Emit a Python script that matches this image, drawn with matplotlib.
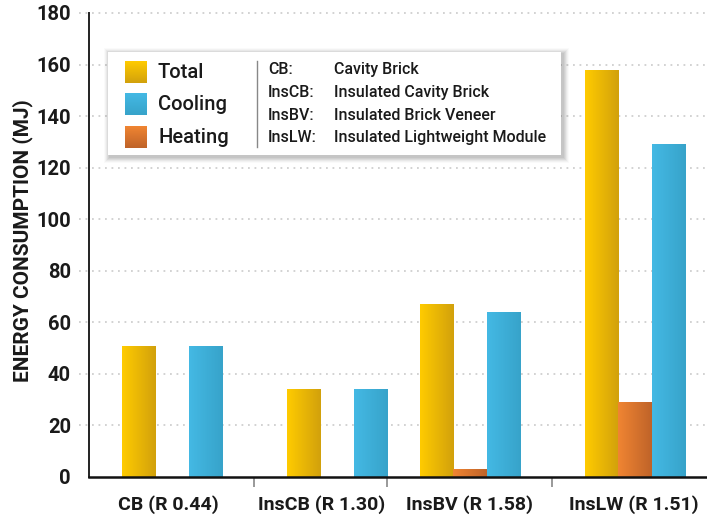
import numpy as np
import matplotlib
matplotlib.use("Agg")
import matplotlib.pyplot as plt
import matplotlib.transforms as mtransforms
from matplotlib.patches import Rectangle
from matplotlib.colors import LinearSegmentedColormap

# ---------------- data ----------------
categories = ["CB (R 0.44)", "InsCB (R 1.30)", "InsBV (R 1.58)", "InsLW (R 1.51)"]
total = [51, 34, 67, 158]
heating = [0, 0, 3, 29]
cooling = [51, 34, 64, 129]
y_ticks = [0, 20, 40, 60, 80, 100, 120, 140, 160, 180]
series_names = ["Total", "Cooling", "Heating"]
abbr = ["CB:", "InsCB:", "InsBV:", "InsLW:"]
abbr_desc = ["Cavity Brick", "Insulated Cavity Brick", "Insulated Brick Veneer",
             "Insulated Lightweight Module"]

# ---------------- style ----------------
FONT = ["Roboto", "DejaVu Sans"]
plt.rcParams["font.family"] = FONT
TXT = "#1a1a1a"
grad = {
    "Total": ("#FFCB00", "#D2A10C"),
    "Cooling": ("#44B9E4", "#37A3CA"),
    "Heating": ("#F08532", "#BF6329"),
}

W, H = 707, 522
fig = plt.figure(figsize=(W / 100, H / 100), dpi=100)
ax_l, ax_r, ax_b, ax_t = 89, 707, 477, 13
ax = fig.add_axes([ax_l / W, 1 - ax_b / H, (ax_r - ax_l) / W, (ax_b - ax_t) / H])
ax.set_xlim(0, ax_r - ax_l)
ax.set_ylim(0, 180)

group_centers = [83, 248, 381, 546]
label_pos = [79, 233, 381, 545]
separators = [165, 298, 463]
bw = 33.5
offsets = {"Total": -bw, "Heating": 0.0, "Cooling": bw}
values = {"Total": total, "Heating": heating, "Cooling": cooling}


def grad_img(c1, c2, vertical=False):
    cmap = LinearSegmentedColormap.from_list("g", [c1, c2])
    g = np.linspace(0, 1, 64)
    if vertical:
        return cmap(g[:, None] * np.ones((1, 2)))
    return cmap(g[None, :] * np.ones((2, 1)))


for name in ["Total", "Heating", "Cooling"]:
    xs = [c + offsets[name] for c in group_centers]
    bars = ax.bar(xs, values[name], width=bw, color="none", edgecolor="none", zorder=2)
    c1, c2 = grad[name]
    for b in bars:
        h = b.get_height()
        if h <= 0:
            continue
        x0 = b.get_x()
        im = ax.imshow(grad_img(c1, c2), extent=[x0, x0 + bw, 0, h], aspect="auto",
                       origin="lower", zorder=2, interpolation="bilinear")
        im.set_clip_path(b)

ax.set_xlim(0, ax_r - ax_l)
ax.set_ylim(0, 180)

# grid lines (dotted, extending slightly left of the axis)
blend = mtransforms.blended_transform_factory(ax.transAxes, ax.transData)
for v in y_ticks[1:]:
    ax.plot([-0.016, 1], [v, v], transform=blend, clip_on=False, color="#cfcfcf",
            lw=1.3, ls=(0, (1.0, 2.6)), zorder=0)

for s in ["top", "right"]:
    ax.spines[s].set_visible(False)
ax.spines["left"].set_color("#222222")
ax.spines["left"].set_linewidth(1.4)
ax.spines["bottom"].set_color("#111111")
ax.spines["bottom"].set_linewidth(1.8)
ax.spines["bottom"].set_zorder(5)

ax.set_yticks(y_ticks)
ax.set_yticklabels([str(v) for v in y_ticks], fontsize=14.5, fontweight="bold", color=TXT)
ax.tick_params(axis="y", length=0, pad=13)

ax.set_xticks(label_pos)
ax.set_xticklabels(categories, fontsize=14, fontweight="bold", color=TXT)
ax.set_xticks(separators, minor=True)
ax.tick_params(axis="x", which="major", length=0, pad=13)
ax.tick_params(axis="x", which="minor", length=7, width=1.2, color="#888888")

ax.set_ylabel("ENERGY CONSUMPTION (MJ)", fontsize=15, fontweight="bold", color=TXT)
ax.yaxis.set_label_coords(-0.09, 0.51)

# ---------------- legend box ----------------
lx0, lx1, ly0, ly1 = 108, 561, 52, 155
# shadow
for i, a in enumerate([0.05, 0.05, 0.05, 0.04, 0.03, 0.02]):
    d = i + 1
    fig.patches.append(Rectangle(((lx0 - d + 2) / W, 1 - (ly1 + d + 2) / H),
                                 (lx1 - lx0 + 2 * d) / W, (ly1 - ly0 + 2 * d) / H,
                                 transform=fig.transFigure, facecolor="black",
                                 edgecolor="none", alpha=a, zorder=8))
lax = fig.add_axes([lx0 / W, 1 - ly1 / H, (lx1 - lx0) / W, (ly1 - ly0) / H], zorder=10)
lax.set_xlim(lx0, lx1)
lax.set_ylim(ly1, ly0)
lax.set_facecolor("white")
for s in lax.spines.values():
    s.set_visible(False)
lax.set_xticks([])
lax.set_yticks([])

sq_y = [61, 93, 126]
for name, y0 in zip(series_names, sq_y):
    c1, c2 = grad[name]
    lax.imshow(grad_img(c1, c2, vertical=True), extent=[125, 147, y0 + 22, y0],
               aspect="auto", origin="upper", interpolation="bilinear")
    lax.text(158, y0 + 11, name, fontsize=14.5, fontweight="medium", color=TXT,
             va="center", ha="left")
lax.set_xlim(lx0, lx1)
lax.set_ylim(ly1, ly0)

lax.plot([257, 257], [61, 147], color="#888888", lw=1)
row_y = [69, 92, 115, 137]
for a, d, y in zip(abbr, abbr_desc, row_y):
    lax.text(268, y, a, fontsize=11.5, fontweight="medium", color=TXT, va="center", ha="left")
    lax.text(334, y, d, fontsize=11.5, fontweight="medium", color=TXT, va="center", ha="left")

fig.savefig("out.png", dpi=100)
